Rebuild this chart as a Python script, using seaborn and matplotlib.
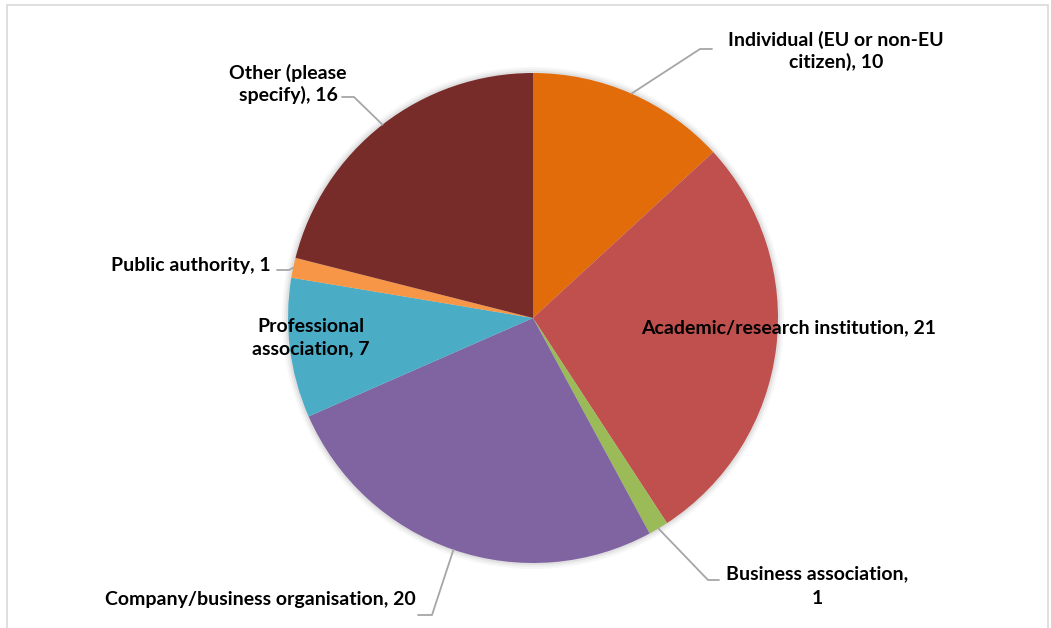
import matplotlib
matplotlib.use("Agg")
import matplotlib.pyplot as plt
import seaborn as sns
import numpy as np
from matplotlib.patches import Rectangle, Circle

# ---- data ----
categories = [
    "Individual (EU or non-EU citizen)",
    "Academic/research institution",
    "Business association",
    "Company/business organisation",
    "Professional association",
    "Public authority",
    "Other (please specify)",
]
values = [10, 21, 1, 20, 7, 1, 16]
colors = ["#E36C0A", "#C0504D", "#9BBB59", "#8064A2", "#4BACC6", "#F79646", "#772C2A"]

# label layout (pixel coordinates, y measured from the top)
label_lines = {
    0: [("Individual (EU or non-EU", 836, 40), ("citizen), 10", 836, 62)],
    1: [("Academic/research institution, 21", 789, 328)],
    2: [("Business association,", 817, 574), ("1", 817, 598)],
    3: [("Company/business organisation, 20", 260, 600)],
    4: [("Professional", 311, 327), ("association, 7", 311, 349)],
    5: [("Public authority, 1", 191, 266)],
    6: [("Other (please", 288, 73), ("specify), 16", 288, 95)],
}
leaders = {
    0: [(700, 49), (712, 49)],
    2: [(708, 580), (719, 580)],
    3: [(432, 615), (418, 615)],
    5: [(289, 270), (277, 270)],
    6: [(354, 97), (342, 97)],
}

W, H = 1051, 628
CX, CY, R = 533, 318, 245

sns.set_theme(style="white")
plt.rcParams["font.family"] = ["Lato", "DejaVu Sans"]

fig = plt.figure(figsize=(W / 100, H / 100), dpi=100)
ax = fig.add_axes([0, 0, 1, 1])

def Y(py):
    return H - py

# soft shadow
for k, a in [(6, 0.03), (4, 0.04), (2, 0.06)]:
    ax.add_patch(Circle((CX, Y(CY)), R + k, color="#000000", alpha=a, lw=0, zorder=0))

wedges, _ = ax.pie(values, colors=colors, startangle=90, counterclock=False,
                   center=(CX, Y(CY)), radius=R,
                   wedgeprops=dict(linewidth=0), frame=True)

total = sum(values)
cum = 0
for i, v in enumerate(values):
    mid = (cum + v / 2) / total * 2 * np.pi
    cum += v
    if i in leaders:
        x0 = CX + R * np.sin(mid)
        y0 = CY - R * np.cos(mid)
        pts = [(x0, y0)] + leaders[i]
        ax.plot([p[0] for p in pts], [Y(p[1]) for p in pts], color="#A6A6A6", lw=1.3, zorder=3)
    for txt, x, y in label_lines[i]:
        ax.text(x, Y(y), txt, ha="center", va="center", fontsize=14,
                fontweight="bold", color="#000000", zorder=4)

ax.add_patch(Rectangle((7, Y(650)), 1041, 645, fill=False, edgecolor="#D9D9D9", lw=1.2, zorder=5))

ax.set_xlim(0, W)
ax.set_ylim(0, H)
ax.set_aspect("auto")
ax.axis("off")
fig.savefig("out.png", dpi=100, facecolor="white")
